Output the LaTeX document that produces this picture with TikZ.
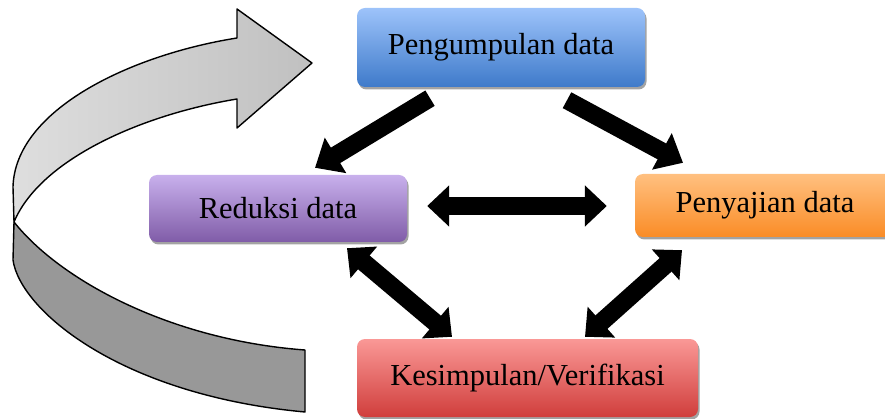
\documentclass[tikz,border=0pt]{standalone}
\usepackage{fontspec}
\setmainfont{Liberation Serif}
\usetikzlibrary{arrows.meta,shadows,calc}
\definecolor{blueT}{RGB}{157,195,250}
\definecolor{blueB}{RGB}{62,122,202}
\definecolor{purT}{RGB}{200,176,236}
\definecolor{purB}{RGB}{128,92,168}
\definecolor{orT}{RGB}{255,192,128}
\definecolor{orB}{RGB}{250,140,38}
\definecolor{redT}{RGB}{250,152,150}
\definecolor{redB}{RGB}{208,62,60}
\definecolor{ribL}{RGB}{222,222,222}
\definecolor{ribR}{RGB}{192,192,192}
\definecolor{ribD}{RGB}{152,152,152}
\begin{document}
\begin{tikzpicture}[x=1pt,y=-1pt,
  box/.style={rounded corners=8pt, inner sep=0pt, font=\fontsize{30.5}{36}\selectfont, text=black,
    drop shadow={shadow xshift=1.5pt,shadow yshift=-2.5pt,fill=black!45,opacity=0.8}},
  fat/.style={line width=18pt, draw=black, -{Triangle[length=24pt,width=40pt]}},
  fatboth/.style={line width=18pt, draw=black, {Triangle[length=22pt,width=40pt]}-{Triangle[length=22pt,width=40pt]}},
  ribbon/.style={line width=1.4pt, line join=round}]
\useasboundingbox (0,0) rectangle (885,419);
% curved return arrow (ribbon)
\draw[ribbon, fill=ribD] (14,222) .. controls (60,280) and (170,340) .. (305,350)
  -- (305,412) .. controls (120,395) and (20,310) .. (13,260) -- cycle;
\shade[left color=ribL, right color=ribR] (237,38) .. controls (130,55) and (15,110) .. (13,187)
  -- (14,222) .. controls (40,160) and (140,115) .. (237,99)
  -- (237,128) -- (312,63) -- (237,9) -- cycle;
\draw[ribbon] (237,38) .. controls (130,55) and (15,110) .. (13,187)
  -- (14,222) .. controls (40,160) and (140,115) .. (237,99)
  -- (237,128) -- (312,63) -- (237,9) -- cycle;
% boxes
\node[box, top color=blueT, bottom color=blueB, minimum width=288pt, minimum height=79pt] (P) at (501,47.5) {Pengumpulan data};
\node[box, top color=purT, bottom color=purB, minimum width=258pt, minimum height=67pt] (R) at (278,208.5) {Reduksi data};
\node[box, top color=orT, bottom color=orB, minimum width=260pt, minimum height=63pt] (S) at (765,205.5) {Penyajian data};
\node[box, top color=redT, bottom color=redB, minimum width=341pt, minimum height=78pt] (K) at (527.5,378) {Kesimpulan/Verifikasi};
% connectors
\draw[fat] ([shift={(-71,11)}]P.south) -- ([shift={(37,-7)}]R.north);
\draw[fat] ([shift={(66,13)}]P.south) -- ([shift={(-82,-11)}]S.north);
\draw[fatboth] ([shift={(20,-2.5)}]R.east) -- ([shift={(-28,0.5)}]S.west);
\draw[fatboth] ([shift={(69,6)}]R.south) -- ([shift={(-75.5,-2)}]K.north);
\draw[fatboth] ([shift={(-83,13)}]S.south) -- ([shift={(57.5,-2)}]K.north);
\end{tikzpicture}
\end{document}
